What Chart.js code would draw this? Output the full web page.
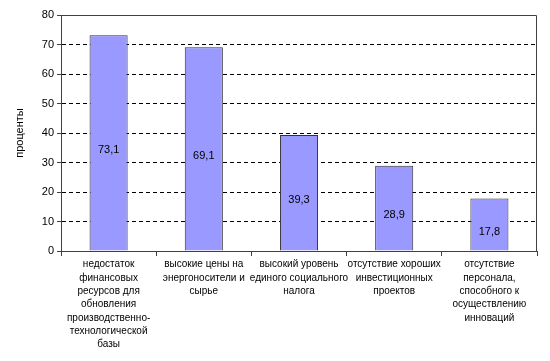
<!DOCTYPE html>
<html>
<head>
<meta charset="utf-8">
<script src="https://cdn.jsdelivr.net/npm/chart.js@4"></script>
<style>
html,body{margin:0;padding:0;background:#fff;}
#wrap{width:550px;height:361px;}
</style>
</head>
<body>
<div id="wrap"><canvas id="c" width="550" height="361"></canvas></div>
<script>
const categories = [
  ["недостаток", "финансовых", "ресурсов для", "обновления", "производственно-", "технологической", "базы"],
  ["высокие цены на", "энергоносители и", "сырье"],
  ["высокий уровень", "единого социального", "налога"],
  ["отсутствие хороших", "инвестиционных", "проектов"],
  ["отсутствие", "персонала,", "способного к", "осуществлению", "инноваций"]
];
const values = [73.1, 69.1, 39.3, 28.9, 17.8];
const yTicks = [0, 10, 20, 30, 40, 50, 60, 70, 80];
const yTitle = "проценты";

const FONT = "'Liberation Sans', Arial, sans-serif";

const frame = {
  id: 'frame',
  afterDraw(chart) {
    const {ctx, chartArea: a} = chart;
    ctx.save();
    ctx.strokeStyle = '#404040';
    ctx.lineWidth = 1;
    ctx.setLineDash([]);
    ctx.beginPath();
    ctx.moveTo(a.left, a.top + 0.5);
    ctx.lineTo(a.right - 0.5, a.top + 0.5);
    ctx.lineTo(a.right - 0.5, a.bottom);
    ctx.stroke();
    ctx.restore();
  }
};

const valueLabels = {
  id: 'valueLabels',
  afterDatasetsDraw(chart) {
    const {ctx} = chart;
    const meta = chart.getDatasetMeta(0);
    ctx.save();
    ctx.fillStyle = '#000';
    ctx.font = '11px ' + FONT;
    ctx.textAlign = 'center';
    ctx.textBaseline = 'middle';
    meta.data.forEach((bar, i) => {
      const y = (bar.y + bar.base) / 2 + 7;
      ctx.fillText(String(values[i]).replace('.', ','), bar.x, y);
    });
    ctx.restore();
  }
};

new Chart(document.getElementById('c'), {
  type: 'bar',
  data: {
    labels: categories,
    datasets: [{
      data: values,
      backgroundColor: '#9999FF',
      borderColor: '#303030',
      borderWidth: 1,
      barPercentage: 0.4,
      categoryPercentage: 1
    }]
  },
  options: {
    responsive: false,
    animation: false,
    devicePixelRatio: 1,
    layout: {padding: {top: 15, right: 13, left: 0, bottom: 0}},
    plugins: {legend: {display: false}, tooltip: {enabled: false}},
    scales: {
      x: {
        afterFit(s) { s.height = 110; },
        grid: {
          display: true,
          drawOnChartArea: false,
          drawTicks: true,
          tickLength: 5,
          tickColor: '#404040',
          offset: true
        },
        border: {display: true, color: '#404040', width: 1},
        ticks: {
          color: '#000',
          font: {family: FONT, size: 10, lineHeight: 1.33},
          padding: 2,
          maxRotation: 0,
          autoSkip: false
        }
      },
      y: {
        min: 0,
        max: 80,
        afterFit(s) { s.width = 61; },
        afterBuildTicks(s) { s.ticks = yTicks.map(v => ({value: v})); },
        grid: {
          color: '#000',
          lineWidth: 1,
          drawTicks: true,
          tickLength: 4,
          tickColor: '#404040',
          tickBorderDash: [],
          tickWidth: 1
        },
        border: {display: true, color: '#404040', width: 1, dash: [4, 3]},
        ticks: {
          color: '#000',
          font: {family: FONT, size: 11},
          padding: 3
        },
        title: {
          display: true,
          text: yTitle,
          color: '#000',
          font: {family: FONT, size: 11},
          padding: {top: 13, bottom: 0}
        }
      }
    }
  },
  plugins: [frame, valueLabels]
});
</script>
</body>
</html>
